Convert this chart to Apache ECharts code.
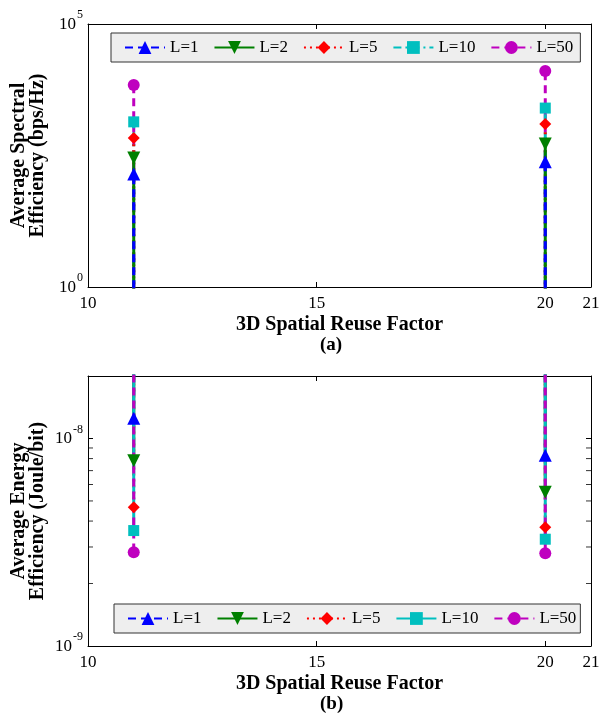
<!DOCTYPE html>
<html>
<head>
<meta charset="utf-8">
<script src="https://cdn.jsdelivr.net/npm/echarts@6/dist/echarts.min.js"></script>
<style>html,body{margin:0;padding:0;background:#fff;}#c{width:599px;height:724px;}</style>
</head>
<body>
<div id="c"></div>
<script>
// ---- data ----
const reuseFactors = [11, 20];
const seriesNames = ['L=1', 'L=2', 'L=5', 'L=10', 'L=50'];
// (a) Average spectral efficiency (bps/Hz)
const seL1 = [141, 240];
const seL2 = [282, 525];
const seL5 = [680, 1260];
const seL10 = [1380, 2520];
const seL50 = [6900, 12800];
// (b) Average energy efficiency (Joule/bit)
const eeL1 = [1.25e-8, 8.3e-9];
const eeL2 = [7.8e-9, 5.5e-9];
const eeL5 = [4.66e-9, 3.73e-9];
const eeL10 = [3.6e-9, 3.27e-9];
const eeL50 = [2.83e-9, 2.8e-9];
// stems run off the plot edge (below / above the visible range)
const seStemEnd = 0.01;
const eeStemEnd = 1e-6;
// axis ticks
const xTicks = [10, 15, 20, 21];
const seLabelExps = [0, 5];
const eeLabelExps = [-9, -8];
const eeMinorTicks = [2e-9, 3e-9, 4e-9, 5e-9, 6e-9, 7e-9, 8e-9, 9e-9];

const seData = [seL1, seL2, seL5, seL10, seL50];
const eeData = [eeL1, eeL2, eeL5, eeL10, eeL50];

const colors = ['#0000FF', '#008000', '#FF0000', '#00BFBF', '#BF00BF'];
const symbols = ['triangle', 'triangle', 'diamond', 'rect', 'circle'];
const rotates = [0, 180, 0, 0, 0];
const sizes = [13, 13, 12, 11, 12];
const dashA = [[8, 5], 'solid', [2, 4], [8, 4, 2, 4], [8, 5]];
const dashB = [[8, 5], 'solid', [2, 4], 'solid', [8, 5]];

const FONT = 'Liberation Serif';

function stemSeries(idx, grid, vals, stemEnd, dashes, suffix) {
  const out = [];
  reuseFactors.forEach((x, k) => {
    out.push({
      type: 'line',
      name: seriesNames[idx] + suffix,
      xAxisIndex: grid * 2,
      yAxisIndex: grid * 2,
      data: [{ value: [x, stemEnd], symbol: 'none' }, { value: [x, vals[k]] }],
      symbol: symbols[idx],
      symbolRotate: rotates[idx],
      symbolSize: sizes[idx],
      showAllSymbol: true,
      clip: true,
      animation: false,
      color: colors[idx],
      itemStyle: { color: colors[idx] },
      lineStyle: { color: colors[idx], width: 3, type: dashes[idx] }
    });
  });
  return out;
}

const series = [];
// panel (a): L=1 drawn on top
for (let i = 4; i >= 0; i--) series.push(...stemSeries(i, 0, seData[i], seStemEnd, dashA, ''));
// panel (b): L=50 drawn on top
for (let i = 0; i < 5; i++) series.push(...stemSeries(i, 1, eeData[i], eeStemEnd, dashB, ' (b)'));
// minor ticks of the log axis in panel (b), left and right edges
series.push({
  type: 'scatter', xAxisIndex: 2, yAxisIndex: 2, silent: true, animation: false,
  symbol: 'rect', symbolSize: [5, 1], symbolOffset: [2.5, 0], clip: false,
  itemStyle: { color: '#000' },
  data: eeMinorTicks.map(v => [xTicks[0], v])
});
series.push({
  type: 'scatter', xAxisIndex: 2, yAxisIndex: 2, silent: true, animation: false,
  symbol: 'rect', symbolSize: [5, 1], symbolOffset: [-2.5, 0], clip: false,
  itemStyle: { color: '#000' },
  data: eeMinorTicks.map(v => [xTicks[xTicks.length - 1], v])
});

function makeLogLabel(exps) {
  return function (v) {
    const l = Math.log10(v);
    const e = Math.round(l);
    if (Math.abs(l - e) > 1e-6 || exps.indexOf(e) < 0) return '';
    return '{b|10}{s|' + e + '}';
  };
}
const logRich = {
  b: { fontFamily: FONT, fontSize: 17, color: '#000', lineHeight: 24, verticalAlign: 'bottom' },
  s: { fontFamily: FONT, fontSize: 12, color: '#000', lineHeight: 24, verticalAlign: 'top', padding: [0, 0, 0, 1] }
};

function xAxes(grid) {
  return [{
    type: 'value', gridIndex: grid, position: 'bottom', min: 10, max: 21, interval: 5,
    name: '3D Spatial Reuse Factor', nameLocation: 'middle', nameGap: 28, nameMoveOverlap: false,
    nameTextStyle: { fontFamily: FONT, fontWeight: 'bold', fontSize: 20, color: '#000' },
    axisLine: { show: true, lineStyle: { color: '#000', width: 1 } },
    axisTick: { show: true, inside: true, length: 5, lineStyle: { color: '#000' } },
    axisLabel: { fontFamily: FONT, fontSize: 17, color: '#000', margin: 8 },
    splitLine: { show: false }
  }, {
    type: 'value', gridIndex: grid, position: 'top', min: 10, max: 21, interval: 5,
    axisLine: { show: true, lineStyle: { color: '#000', width: 1 } },
    axisTick: { show: true, inside: true, length: 5, lineStyle: { color: '#000' } },
    axisLabel: { show: false }, splitLine: { show: false }
  }];
}

const legendCommon = {
  orient: 'horizontal',
  itemWidth: 40, itemHeight: 16, itemGap: 15,
  backgroundColor: '#EEEEEE', borderColor: '#333', borderWidth: 1, borderRadius: 0,
  textStyle: { fontFamily: FONT, fontSize: 17, color: '#000' },
  selectedMode: false
};

const option = {
  backgroundColor: '#fff',
  animation: false,
  grid: [
    { left: 88, top: 24, width: 503, height: 263, containLabel: false, outerBoundsMode: 'none' },
    { left: 88, top: 376, width: 503, height: 270, containLabel: false, outerBoundsMode: 'none' }
  ],
  xAxis: [...xAxes(0), ...xAxes(1)],
  yAxis: [{
    type: 'log', gridIndex: 0, position: 'left', min: 1, max: 100000, logBase: 10,
    name: 'Average Spectral\nEfficiency (bps/Hz)', nameLocation: 'middle', nameRotate: 90, nameGap: 41,
    nameMoveOverlap: false,
    nameTextStyle: { fontFamily: FONT, fontWeight: 'bold', fontSize: 20, lineHeight: 19, color: '#000' },
    axisLine: { show: true, lineStyle: { color: '#000' } },
    axisTick: { show: false },
    axisLabel: { formatter: makeLogLabel(seLabelExps), rich: logRich, margin: 5, padding: [0, 0, 6, 0] },
    splitLine: { show: false }, minorTick: { show: false }
  }, {
    type: 'log', gridIndex: 0, position: 'right', min: 1, max: 100000, logBase: 10,
    axisLine: { show: true, lineStyle: { color: '#000' } },
    axisTick: { show: false }, axisLabel: { show: false }, splitLine: { show: false }
  }, {
    type: 'log', gridIndex: 1, position: 'left', min: 1e-9, max: 2e-8, logBase: 10,
    name: 'Average Energy\nEfficiency (Joule/bit)', nameLocation: 'middle', nameRotate: 90, nameGap: 41,
    nameMoveOverlap: false,
    nameTextStyle: { fontFamily: FONT, fontWeight: 'bold', fontSize: 20, lineHeight: 19, color: '#000' },
    axisLine: { show: true, lineStyle: { color: '#000' } },
    axisTick: { show: true, inside: true, length: 5, lineStyle: { color: '#000' } },
    axisLabel: { formatter: makeLogLabel(eeLabelExps), rich: logRich, margin: 5, padding: [0, 0, 6, 0] },
    splitLine: { show: false }
  }, {
    type: 'log', gridIndex: 1, position: 'right', min: 1e-9, max: 2e-8, logBase: 10,
    axisLine: { show: true, lineStyle: { color: '#000' } },
    axisTick: { show: true, inside: true, length: 5, lineStyle: { color: '#000' } },
    axisLabel: { show: false }, splitLine: { show: false }
  }],
  legend: [Object.assign({}, legendCommon, {
    data: seriesNames.slice(),
    left: 111, top: 33,
    padding: [6, 7, 6, 13]
  }), Object.assign({}, legendCommon, {
    data: seriesNames.map(n => n + ' (b)'),
    formatter: n => n.replace(' (b)', ''),
    left: 114, top: 604,
    padding: [6, 4, 6, 13]
  })],
  graphic: [
    { type: 'text', left: 320, top: 336, style: { text: '(a)', fontFamily: FONT, fontWeight: 'bold', fontSize: 19, fill: '#000' } },
    { type: 'text', left: 320, top: 695, style: { text: '(b)', fontFamily: FONT, fontWeight: 'bold', fontSize: 19, fill: '#000' } }
  ],
  series: series
};

const chart = echarts.init(document.getElementById('c'), null, { renderer: 'canvas' });
chart.setOption(option);
</script>
</body>
</html>
